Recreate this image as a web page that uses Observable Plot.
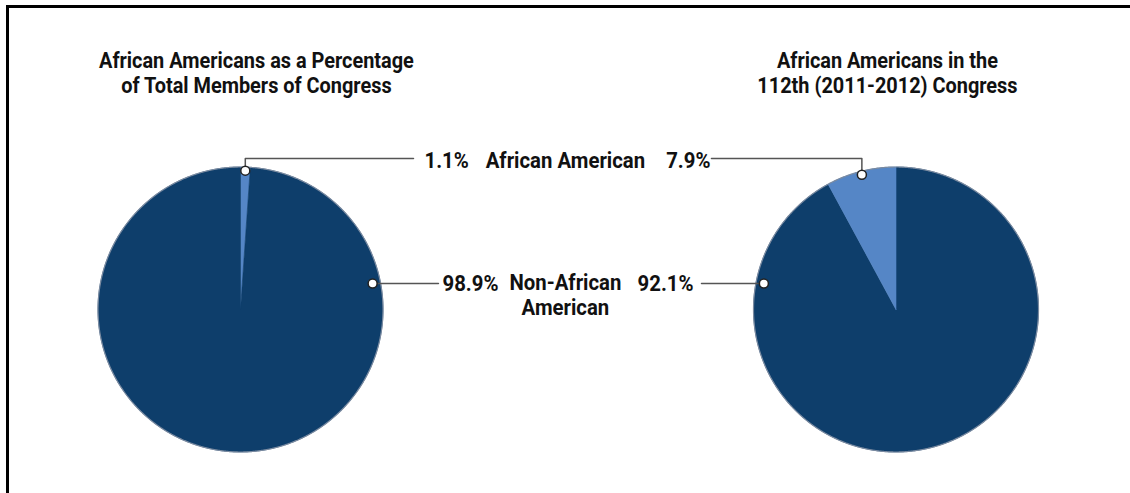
<!DOCTYPE html>
<html><head><meta charset="utf-8">
<script src="https://cdn.jsdelivr.net/npm/d3@7"></script>
<script src="https://cdn.jsdelivr.net/npm/@observablehq/plot@0.6"></script>
<style>
body{margin:0;background:#fff;}
#wrap{position:relative;width:1130px;height:493px;overflow:hidden;}
#chart{position:absolute;left:0;top:0;}
#frame{position:absolute;left:6px;top:5px;width:1300px;height:700px;border-left:3px solid #000;border-top:3px solid #000;pointer-events:none;}
</style></head><body><div id="wrap"><div id="chart"></div><div id="frame"></div></div>
<script>
// ---- data ----
const categories = ["African American", "Non-African American"];
const categoryLabels = ["African American", "Non-African\nAmerican"];
const pieTitles = ["African Americans as a Percentage\nof Total Members of Congress", "African Americans in the\n112th (2011-2012) Congress"];
const valuesAllCongresses = [1.1, 98.9];
const values112th = [7.9, 92.1];
const pieValues = [valuesAllCongresses, values112th];
const sliceOrder = [[0, 1], [1, 0]]; // clockwise from 12 o'clock
const colors = ["#5586c6", "#0e3e6b"];

// ---- layout (units: pie radius = 1) ----
const pieX = [0, 4.6];
const titleX = [0.112, 4.54];
const titleY = 1.516;
const rowY = [0.996, 0.133];      // text baselines
const leaderY = [1.06, 0.1825];   // horizontal leader lines
const midX = 2.28;
const FONT = "Roboto, 'Liberation Sans', sans-serif";
const SQUEEZE_LABEL = 0.925, SQUEEZE_TITLE = 0.905;

const slices = [], outline = [], leaders = [], dots = [], texts = [];
pieValues.forEach((vals, p) => {
  const cx = pieX[p];
  const total = d3.sum(vals);
  let a = 0;
  for (const i of sliceOrder[p]) {
    const a0 = a, a1 = a + vals[i] / total * 2 * Math.PI;
    const id = p + "-" + i;
    slices.push({id, cat: categories[i], x: cx, y: 0});
    const n = Math.max(4, Math.ceil((a1 - a0) / (Math.PI / 720)));
    for (let k = 0; k <= n; ++k) {
      const t = a0 + (a1 - a0) * k / n;
      slices.push({id, cat: categories[i], x: cx + Math.sin(t), y: Math.cos(t)});
    }
    slices.push({id, cat: categories[i], x: cx, y: 0});
    if (i === 0) {
      const m = (a0 + a1) / 2, r = 0.975;
      const dx = cx + r * Math.sin(m), dy = r * Math.cos(m);
      const endX = p === 0 ? 1.214 : 3.305;
      leaders.push({id: "a" + p, x: dx, y: dy}, {id: "a" + p, x: dx, y: leaderY[0]}, {id: "a" + p, x: endX, y: leaderY[0]});
      dots.push({x: dx, y: dy});
      texts.push({x: p === 0 ? 1.291 : 3.298, y: rowY[0], text: vals[i] + "%", side: p});
    } else {
      const r = 0.945, yy = leaderY[1];
      const dx = cx + (p === 0 ? 1 : -1) * Math.sqrt(r * r - yy * yy);
      const endX = p === 0 ? 1.389 : 3.235;
      leaders.push({id: "b" + p, x: dx, y: yy}, {id: "b" + p, x: endX, y: yy});
      dots.push({x: dx, y: yy});
      texts.push({x: p === 0 ? 1.4175 : 3.179, y: rowY[1], text: vals[i] + "%", side: p});
    }
    a = a1;
  }
  for (let k = 0; k <= 1440; ++k) {
    const t = k / 1440 * 2 * Math.PI;
    outline.push({id: p, x: cx + Math.sin(t), y: Math.cos(t)});
  }
});

const textStyle = {fontSize: 22, fontWeight: 700, fill: "#111", lineAnchor: "bottom", lineHeight: 25 / 22};
const W = 1130, H = 493, PX = 142.5, CX = 240, CY = 309;
const chart = Plot.plot({
  width: W, height: H, margin: 0,
  x: {domain: [-CX / PX, (W - CX) / PX], range: [0, W], axis: null},
  y: {domain: [(CY - H) / PX, CY / PX], range: [H, 0], axis: null},
  color: {domain: categories, range: colors},
  style: {fontFamily: FONT, background: "transparent"},
  marks: [
    Plot.line(slices, {x: "x", y: "y", z: "id", fill: "cat", stroke: "cat", strokeWidth: 0.6, curve: "linear"}),
    Plot.line(outline, {x: "x", y: "y", z: "id", stroke: "#7a8aa0", strokeWidth: 1.2}),
    Plot.line(leaders, {x: "x", y: "y", z: "id", stroke: "#555", strokeWidth: 1.5}),
    Plot.dot(dots, {x: "x", y: "y", r: 4.5, fill: "#fff", stroke: "#222", strokeWidth: 1.5}),
    Plot.text(texts.filter(d => d.side === 0), {x: "x", y: "y", text: "text", textAnchor: "start", ...textStyle}),
    Plot.text(texts.filter(d => d.side === 1), {x: "x", y: "y", text: "text", textAnchor: "end", ...textStyle}),
    Plot.text(categoryLabels, {x: () => midX, y: (d, i) => rowY[i] - (i === 1 ? 0.175 : 0), text: d => d, textAnchor: "middle", ...textStyle}),
    Plot.text(pieTitles, {x: (d, i) => titleX[i], y: () => titleY, text: d => d, textAnchor: "middle", ...textStyle})
  ]
});
// condensed look: squeeze each label horizontally about its anchor point
const groups = d3.select(chart).selectAll("g[aria-label='text']").nodes();
groups.forEach((g, gi) => {
  const s = gi === groups.length - 1 ? SQUEEZE_TITLE : SQUEEZE_LABEL;
  d3.select(g).selectAll("text").each(function () {
    const t = this.getAttribute("transform") || "";
    this.setAttribute("transform", t + ` scale(${s},1)`);
  });
});
document.getElementById("chart").append(chart);
</script>
</body></html>
